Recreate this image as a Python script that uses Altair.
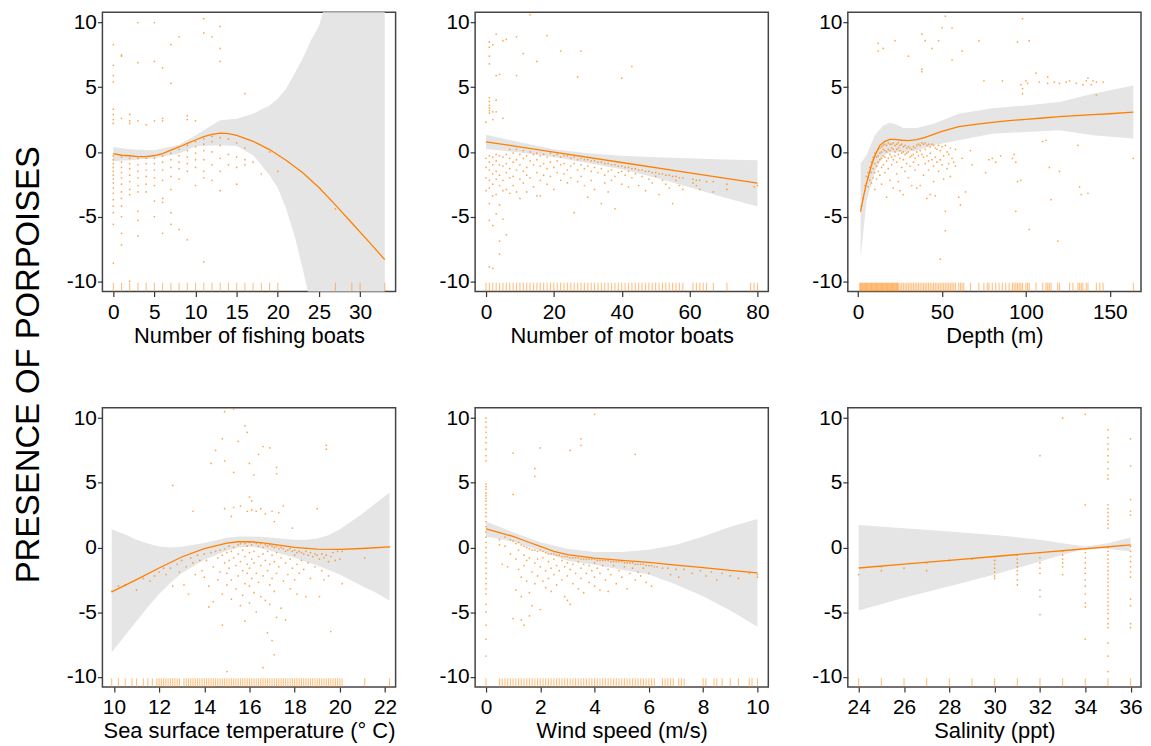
import altair as alt
import pandas as pd

FONT = "Liberation Sans"
ORANGE = "#FF7F00"
BAND = "#E5E5E5"

# ---------------- Panel 1: Number of fishing boats ----------------
fb_line_x = [0, 1, 2, 3, 4, 5, 6, 7, 8, 9, 10, 11, 12, 13, 14, 15, 17, 19, 21, 23, 25, 27, 29, 31, 33]
fb_line_y = [-0.13, -0.26, -0.3, -0.36, -0.36, -0.28, -0.13, 0.13, 0.38, 0.66, 0.92, 1.18, 1.36, 1.45, 1.41, 1.28, 0.82, 0.18, -0.64, -1.6, -2.75, -4.1, -5.5, -6.9, -8.33]
fb_band_x = [0, 2, 5, 8, 10, 13, 15, 17, 19, 20, 21, 22, 23, 24, 25, 25.5, 27, 30, 33]
fb_band_lo = [-0.72, -0.65, -0.5, -0.13, 0.44, 0.51, 0.46, -0.26, -1.8, -2.8, -4.36, -6.4, -8.97, -11.8, -14.5, -16, -20, -28, -36]
fb_band_hi = [0.38, 0.2, 0.13, 0.56, 1.28, 2.44, 2.56, 2.95, 3.59, 4.1, 4.87, 6.03, 7.18, 8.59, 9.74, 10.8, 14, 21, 28]
fb_points = {
    0: [-0.3, -0.6, -0.9, -1.2, -1.5, -1.8, -2.1, -2.4, -2.8, -3.2, -3.7, -4.2, -4.7, -5.6, -8.6, 2.2, 2.5, 2.9, 3.3, 5.4, 5.9, 6.7, 8.3],
    1: [-0.4, -0.8, -1.2, -1.6, -2.0, -2.5, -3.1, -3.6, -4.2, -5.0, -6.3, -7.2, 2.6, 7.4, 7.5],
    2: [-0.5, -0.9, -1.3, -1.8, -2.3, -2.9, -3.3, 2.2, 2.4, 2.9, -10.0],
    3: [-0.5, -1.0, -1.5, -2.0, -2.6, -3.1, -4.6, -5.3, -6.5, 2.4, 6.9, 10.0],
    4: [-0.5, -0.9, -1.4, -1.9, -2.5, -3.1, 2.1],
    5: [-0.5, -0.9, -1.4, -2.0, -2.6, -3.8, -5.0, 2.4, 7.0, 10.0],
    6: [-0.3, -0.8, -1.4, -2.2, -3.6, -3.9, -6.3, 2.4, 2.6, 6.5],
    7: [-0.1, -0.6, -1.2, -1.9, -2.9, -4.7, -5.6, 5.3, 8.3],
    8: [0.2, -0.3, -0.8, -1.3, -2.1, -6.0, 8.9],
    9: [0.5, 0.1, -0.4, -0.9, -1.5, -6.8, 2.5, 2.8],
    10: [0.8, 0.4, -0.1, -0.6, -1.2, -2.6, 2.4],
    11: [1.0, 0.6, 0.1, -0.6, -1.5, -2.0, -8.5, 9.2, 10.3],
    12: [1.2, 0.8, 0.0, -1.0, -2.2, 8.9],
    13: [1.1, 0.5, -0.5, -1.5, -3.0, 7.0, 8.0, 9.7],
    14: [1.0, -0.2, -1.0],
    15: [0.7, -0.4, -1.2, -2.5],
    16: [0.3, -0.6, -1.0, 4.5],
    17: [-0.8],
    18: [-1.7],
    19: [0.0],
    20: [-1.5],
    27: [-4.4],
}
fb_rug = [0, 1, 2, 3, 4, 5, 6, 7, 8, 9, 10, 11, 12, 13, 14, 15, 16, 17, 18, 19, 20, 27, 29, 30, 33]

# ---------------- Panel 2: Number of motor boats ----------------
mb_line_x = [0, 20, 40, 60, 80]
mb_line_y = [0.78, -0.02, -0.82, -1.62, -2.42]
mb_band_x = [0, 10, 20, 30, 40, 50, 60, 70, 80]
mb_band_lo = [0.23, -0.05, -0.4, -0.85, -1.34, -2.0, -2.74, -3.5, -4.23]
mb_band_hi = [1.33, 0.75, 0.2, -0.1, -0.3, -0.42, -0.5, -0.58, -0.64]
mb_points = {
    0: [2.3, -0.5, -1.2, -2.0, -3.0],
    1: [3.0, 3.2, 3.4, 3.6, 3.9, 4.2, 6.8, 7.4, 8.1, 8.5, -0.3, -0.8, -1.4, -2.2, -2.8, -4.0, -5.3, -8.9],
    2: [8.3, 3.1, 2.5, -0.4, -1.0, -1.7, -2.5, -3.4, -5.7, -9.0],
    3: [9.1, 5.9, 4.0, 3.1, -0.2, -0.7, -1.5, -2.1, -3.3, -4.8],
    4: [6.0, -0.3, -1.0, -1.8, -2.6, -4.1, -6.9, -7.9],
    5: [8.6, 2.6, -0.4, -1.1, -2.2, -3.0, -5.2],
    6: [8.7, -0.2, -0.9, -1.6, -2.9, -6.4],
    7: [0.2, -0.5, -1.3, -2.0, -3.2],
    8: [-0.1, -0.8, -1.9, -2.6],
    9: [8.9, 5.9, 0.2, -0.6, -1.4, -3.1],
    10: [-0.2, -1.0, -2.1, -3.6],
    11: [7.6, 0.1, -0.5, -1.5, -2.4],
    12: [-0.3, -1.2, -1.8, -3.1],
    13: [10.6, 0.0, -0.7, -2.0],
    14: [-0.2, -1.0, -2.7],
    15: [7.0, -0.1, -0.6, -1.6, -3.4],
    16: [-0.3, -1.1, -2.2, -3.4],
    17: [-0.2, -0.9, -1.8],
    18: [9.0, -0.4, -1.3, -2.5],
    19: [-0.1, -0.8, -1.9],
    20: [-0.3, -1.2, -2.9],
    21: [-0.2, -0.7, -1.6],
    22: [7.8, -0.4, -1.0, -2.2],
    23: [-0.3, -0.9, -1.7],
    24: [-0.3, -1.4, -2.4],
    25: [-0.5, -1.1, -2.0],
    26: [-0.4, -0.9, -4.7],
    27: [5.8, -0.6, -1.4, -2.3],
    28: [7.8, -0.5, -1.0, -1.9],
    29: [-0.6, -1.3, -2.6],
    30: [-0.6, -1.1, -3.5],
    31: [-0.7, -1.5, -2.2],
    32: [-0.7, -1.2, -2.9],
    33: [-0.8, -1.6],
    34: [-0.8, -1.3, -4.0],
    35: [-0.9, -1.8, -2.4],
    36: [-0.9, -1.5, -3.1],
    37: [-1.0, -1.4, -2.2],
    38: [-1.0, -1.9, -4.4],
    39: [-1.1, -1.6],
    40: [5.7, -1.1, -1.5, -2.5],
    41: [-1.2, -1.8],
    42: [-1.2, -1.5, -2.7],
    43: [6.6, -1.3, -2.0],
    44: [-1.3, -1.7],
    45: [-1.4, -2.6],
    46: [-1.4, -1.9],
    47: [-1.5, -3.0],
    48: [-1.5, -2.1],
    49: [-1.6, -2.4],
    50: [-1.6, -1.9],
    51: [-1.7, -3.3],
    52: [-1.7, -2.2],
    53: [-1.8, -2.5],
    54: [-1.8, -2.8],
    55: [-1.9, -4.0],
    56: [-1.9, -2.2],
    57: [-2.0, -2.6],
    58: [-2.0, -2.9],
    61: [-2.1, -2.4],
    62: [-2.2, -2.6],
    63: [-2.2, -2.9],
    65: [-2.3],
    67: [-2.3, -3.1],
    71: [-2.5, -2.9],
    79: [-2.7],
    80: [-2.6],
}
mb_rug = [0, 1, 2, 3, 4, 5, 6, 7, 8, 9, 10, 11, 12, 13, 14, 15, 16, 17, 18, 19, 20,
          21, 22, 23, 24, 25, 26, 27, 28, 29, 30, 31, 32, 33, 34, 35, 36, 37, 38, 39, 40,
          41, 42, 43, 44, 45, 46, 47, 48, 49, 50, 51, 52, 53, 54, 55, 56, 57, 58,
          61, 62, 63, 64, 65, 67, 71, 78, 79, 80]

# ---------------- Panel 3: Depth ----------------
dp_line_x = [1.5, 3, 5, 8, 10, 13, 16, 19, 22, 26, 30, 35, 40, 50, 60, 70, 80, 90, 100, 110, 120, 130, 140, 150, 164]
dp_line_y = [-4.62, -3.6, -2.44, -1.03, -0.3, 0.51, 0.82, 0.97, 0.97, 0.9, 0.87, 0.95, 1.13, 1.59, 1.95, 2.12, 2.28, 2.42, 2.52, 2.62, 2.72, 2.8, 2.88, 2.95, 3.07]
dp_band_x = [1.5, 5, 10, 15, 19, 22, 27, 35, 45, 60, 80, 100, 120, 140, 164]
dp_band_lo = [-8.2, -3.85, -1.54, -0.26, -0.05, -0.05, 0.0, 0.1, 0.51, 0.9, 1.41, 1.54, 1.67, 1.28, 1.03]
dp_band_hi = [-0.9, -0.26, 1.28, 2.05, 2.26, 2.15, 1.85, 1.85, 2.18, 2.95, 3.38, 3.59, 3.85, 4.49, 5.13]
dp_pts_x = [2, 3, 4, 4, 5, 5, 6, 6, 6, 7, 7, 7, 8, 8, 8, 8, 9, 9, 9, 9, 10, 10, 10, 10, 10, 11, 11, 11, 11,
            12, 12, 12, 12, 12, 12, 13, 13, 13, 13, 14, 14, 14, 14, 14, 15, 15, 15, 15, 15, 16, 16, 16, 16,
            17, 17, 17, 17, 18, 18, 18, 18, 19, 19, 19, 19, 20, 20, 20, 20, 21, 21, 21, 21, 22, 22, 22, 22,
            23, 23, 23, 23, 24, 24, 24, 24, 25, 25, 25, 25, 26, 26, 26, 27, 27, 27, 27, 28, 28, 28, 29, 29, 29,
            30, 30, 30, 30, 31, 31, 31, 32, 32, 32, 33, 33, 33, 34, 34, 34, 35, 35, 35, 36, 36, 36, 37, 37, 37,
            38, 38, 38, 38, 38, 39, 39, 39, 40, 40, 40, 40, 41, 41, 41, 42, 42, 42, 43, 43, 43, 44, 44, 44,
            45, 45, 45, 46, 46, 46, 47, 47, 48, 48, 48, 49, 49, 49, 50, 50, 50, 51, 51, 52, 52, 52, 52, 53, 53,
            54, 54, 55, 55, 56, 56, 56, 57, 58, 58, 60, 61, 62, 62, 64, 67, 68, 72, 75, 76, 78, 80, 82, 85, 86,
            92, 93, 94, 94, 95, 95, 97, 97, 98, 98, 98, 100, 101, 102, 102, 106, 108, 110, 112, 113, 113, 114,
            115, 117, 119, 120, 120, 124, 126, 130, 131, 132, 133, 134, 136, 137, 137, 139, 140, 142, 142, 146, 164]
dp_pts_y = [-4.2, -3.6, -3.0, -2.6, -2.4, -1.9, -2.0, -1.6, -2.7, -1.5, -1.2, -2.2, -1.0, -0.8, -1.6, -2.4,
            -0.6, -0.4, -1.3, -2.0, -0.3, -0.1, -0.9, -1.6, -2.9, 0.0, -0.4, -1.1, -2.1,
            0.2, -0.3, -0.8, -1.5, 7.8, 8.4, 0.3, -0.1, -0.6, -1.8, 0.4, 0.0, -0.5, -1.2, -2.5,
            0.5, 0.2, -0.3, -1.0, 8.0, 0.6, 0.1, -0.4, -1.6, 0.5, 0.0, -0.7, -3.5, 0.7, 0.2, -0.5, -1.3,
            0.6, 0.1, -0.2, -2.2, 0.6, 0.3, -0.4, -1.0, 0.7, 0.2, -0.6, -2.8, 0.5, 0.0, -0.3, 8.6,
            0.6, 0.2, -0.8, -1.7, 0.7, 0.3, -0.2, -2.3, 0.5, 0.1, -0.5, -3.0, 0.6, -0.1, -1.2,
            0.4, 0.0, -0.6, -3.3, 0.5, -0.2, -1.5, 0.3, -0.1, -0.9, 0.4, 0.0, -2.0, 7.4,
            0.3, -0.4, -1.1, 0.2, -0.3, -2.6, 0.4, -0.2, -0.8, 0.3, -0.5, -1.4, 0.5, 0.0, -2.8,
            0.6, -0.3, -1.0, 0.5, 0.1, -2.6, 0.7, -0.2, 6.4, 6.2, 9.1, 0.6, -0.4, -1.8, 0.7, 0.2, -0.9, 8.6,
            0.5, -0.3, -3.6, 0.6, -0.7, -1.4, 0.4, -0.1, -3.3, 0.6, -0.6, 8.0, 0.5, -1.1, -2.3,
            0.3, -0.4, -3.4, 0.2, -0.8, 0.5, -1.5, 8.6, 0.1, -0.6, -8.3, 0.4, -1.0, 9.6, -0.3, -2.1,
            0.5, -4.6, -6.1, 10.5, 0.0, -1.3, -0.2, -0.9, 0.3, -1.9, -0.5, 7.1, 9.6, -0.8, -1.1, 0.2,
            -3.5, -4.1, -0.5, 7.8, -3.1, 0.1, -1.0, 8.6, 5.5, -1.6, -0.6, -0.5, -0.8, -0.3, 5.5,
            -0.5, -0.2, -0.8, -4.6, 8.5, -2.3, -2.2, 5.2, 10.3, 4.9, 4.5, 5.5, 5.3, 8.6, -6.0, 6.1, 5.4,
            0.8, 0.9, 5.3, 5.8, -1.2, -3.7, 5.4, -6.9, -1.5, 5.3, 5.4, 5.5, 5.3, 0.5, -2.7, -3.3, 5.2,
            5.5, 5.7, -3.2, 5.2, 5.5, 4.4, 5.4, 5.4, -0.5]
dp_rug = [1, 1.5, 2, 2.5, 3, 3.5, 4, 4.5, 5, 5.5, 6, 6.5, 7, 7.5, 8, 8.5, 9, 9.5, 10, 10.5,
          11, 11.5, 12, 12.5, 13, 13.5, 14, 14.5, 15, 15.5, 16, 16.5, 17, 17.5, 18, 18.5, 19,
          19.5, 20, 20.5, 21, 21.5, 22, 22.5, 23, 23.5, 24, 25, 26, 27, 28, 29, 30, 31, 32, 33, 34, 35, 36,
          37, 38, 39, 40, 41, 42, 43, 44, 45, 46, 47, 48, 49, 50, 51, 52, 53, 54, 55, 56, 57, 58, 60, 61, 62, 63,
          67, 72, 75, 77, 78, 80, 82, 84, 86, 88, 90, 92, 93, 94, 95, 96, 97, 98, 100, 101, 102,
          106, 110, 112, 113, 114, 115, 119, 120, 126, 128, 131, 132, 133, 134, 136, 137, 142,
          144, 146, 164]

# ---------------- Panel 4: Sea surface temperature ----------------
st_line_x = [9.9, 11, 12, 13, 14, 15, 15.5, 16, 16.5, 17, 18, 19, 20, 21, 22.2]
st_line_y = [-3.44, -2.49, -1.59, -0.74, -0.1, 0.33, 0.44, 0.44, 0.38, 0.26, 0.0, -0.13, -0.15, -0.08, 0.05]
st_band_x = [9.9, 10.5, 11, 11.5, 12, 12.5, 13, 14, 15, 15.5, 16, 16.5, 17, 18, 18.5, 19, 19.5, 20, 20.5, 21, 21.5, 22.2]
st_band_lo = [-8.13, -6.8, -5.7, -4.6, -3.6, -2.75, -2.0, -0.95, -0.25, 0.0, 0.05, -0.05, -0.3, -0.8, -1.1, -1.4, -1.75, -2.1, -2.55, -3.0, -3.4, -4.1]
st_band_hi = [1.41, 1.0, 0.6, 0.3, 0.08, 0.0, 0.05, 0.35, 0.75, 0.85, 0.85, 0.82, 0.75, 0.6, 0.6, 0.7, 0.95, 1.4, 2.0, 2.6, 3.3, 4.23]
st_pts_x = [9.9, 10.2, 10.5, 11.0, 11.3, 11.6, 11.8, 12.0, 12.2, 12.3, 12.5, 12.6, 12.6, 12.8, 12.9, 13.0, 13.1,
            13.2, 13.3, 13.4, 13.5, 13.5, 13.6, 13.7, 13.8, 13.9, 14.0, 14.0, 14.1, 14.2, 14.2, 14.3, 14.3,
            14.4, 14.4, 14.5, 14.5, 14.6, 14.6, 14.7, 14.7, 14.8, 14.8, 14.8, 14.8, 14.9, 14.9, 14.9, 14.9,
            14.9, 15.0, 15.0, 15.0, 15.0, 15.1, 15.1, 15.1, 15.2, 15.2, 15.2, 15.2, 15.3, 15.3, 15.3, 15.3,
            15.3, 15.4, 15.4, 15.5, 15.5, 15.5, 15.5, 15.6, 15.6, 15.6, 15.6, 15.7, 15.7, 15.7, 15.8, 15.8,
            15.8, 15.8, 15.8, 15.9, 15.9, 15.9, 15.9, 15.9, 16.0, 16.0, 16.0, 16.0, 16.0, 16.0, 16.0, 16.1,
            16.1, 16.1, 16.1, 16.1, 16.2, 16.2, 16.2, 16.2, 16.2, 16.3, 16.3, 16.3, 16.3, 16.4, 16.4, 16.4,
            16.4, 16.5, 16.5, 16.5, 16.5, 16.6, 16.6, 16.6, 16.6, 16.6, 16.7, 16.7, 16.7, 16.7, 16.8, 16.8,
            16.8, 16.8, 16.9, 16.9, 16.9, 16.9, 16.9, 17.0, 17.0, 17.0, 17.0, 17.0, 17.1, 17.1, 17.1, 17.1,
            17.1, 17.2, 17.2, 17.2, 17.2, 17.2, 17.2, 17.3, 17.3, 17.3, 17.4, 17.4, 17.4, 17.5, 17.5, 17.5,
            17.6, 17.6, 17.6, 17.7, 17.7, 17.8, 17.8, 17.8, 17.9, 17.9, 17.9, 18.0, 18.0, 18.0, 18.1, 18.1,
            18.1, 18.2, 18.2, 18.3, 18.3, 18.4, 18.4, 18.5, 18.5, 18.6, 18.6, 18.7, 18.7, 18.8, 18.9, 18.9,
            19.0, 19.0, 19.1, 19.1, 19.2, 19.2, 19.3, 19.3, 19.4, 19.4, 19.4, 19.5, 19.5, 19.6, 19.6, 19.7,
            19.8, 19.9, 20.0, 20.1, 20.1, 21.1, 22.2]
st_pts_y = [-3.4, -3.0, -2.9, -3.3, -2.4, -2.6, -2.2, -1.9, -1.6, -2.1, -1.6, -3.0, 4.8, -1.3, -1.9, -1.0, -2.9,
            -1.5, -3.6, -0.8, -1.2, 2.8, -2.1, -0.6, -1.0, -1.8, -0.5, -2.3, -1.0, -3.0, -4.6, -0.4, 6.5,
            -1.5, -4.2, -0.3, 7.5, -0.8, -2.5, -0.2, -1.9, -0.6, -3.6, -6.0, 8.4, -0.1, -1.2, 3.0, 6.7,
            10.5, -0.4, -2.0, -2.9, -9.6, 0.1, -1.0, -1.6, -0.3, -2.5, -4.0, 2.4, 0.0, -0.8, 3.1, 10.7,
            5.8, -1.4, -3.2, 0.2, -0.5, -2.2, 8.2, 0.3, -1.1, -4.5, 3.2, -0.2, -1.8, -3.7, 0.3, -0.7,
            -2.8, -5.7, 9.4, 0.1, -1.3, -2.0, 2.8, 8.9, 0.4, -0.4, -1.6, -3.0, -4.3, 3.9, 6.5, 0.2,
            -0.9, -2.4, 2.9, 3.6, 0.4, -0.3, -1.2, -3.5, 5.6, 0.3, -2.0, -5.0, 2.8, 0.1, -0.7, -2.7,
            7.2, 0.3, -1.4, -3.8, 3.0, 0.0, -0.5, -2.2, -9.3, 7.8, 0.2, -1.0, -4.1, 2.6, 0.1, -0.3,
            -1.8, -6.6, 0.2, -1.3, -2.9, -4.4, 7.7, 0.1, -0.6, -2.4, -7.2, 2.8, 0.0, -1.1, -3.4, -8.3,
            2.0, 0.1, -0.4, -2.0, -5.4, 6.2, 5.7, -0.1, -1.5, 2.7, 0.0, -0.8, -4.7, -0.1, -2.6, 3.2,
            -0.3, -1.2, -5.6, -0.2, -2.1, -0.1, -0.9, -3.2, -0.3, -1.6, 1.5, -0.2, -0.6, -2.5, -0.4, -1.3,
            -3.6, -0.3, -2.0, -0.4, -1.0, -0.5, -1.7, -0.3, -3.8, -0.6, -1.2, -0.4, -2.4, -0.7, -0.5, -1.5,
            -0.6, 3.0, -0.9, -3.8, -0.5, -1.8, -0.8, -2.5, -0.6, 7.9, 7.6, -1.1, -2.2, -0.7, -6.5, -0.4,
            -1.0, -0.3, -0.9, -0.3, -2.8, -0.8, 0.05]
st_rug = [9.9, 10.2, 10.5, 10.8, 11.0, 11.3, 11.5, 11.7, 11.9, 12.0, 12.1, 12.2, 12.3, 12.4, 12.5, 12.6,
          12.7, 12.8, 12.9, 13.1, 13.2, 13.3, 13.4, 13.5, 13.6, 13.7, 13.8, 13.9, 14.0, 14.1, 14.2, 14.3,
          14.4, 14.5, 14.6, 14.7, 14.8, 14.9, 15.0, 15.1, 15.2, 15.3, 15.4, 15.5, 15.6, 15.7, 15.8, 15.9,
          16.0, 16.1, 16.2, 16.3, 16.4, 16.5, 16.6, 16.7, 16.8, 16.9, 17.0, 17.1, 17.2, 17.3, 17.4, 17.5,
          17.6, 17.7, 17.8, 17.9, 18.0, 18.1, 18.2, 18.3, 18.4, 18.5, 18.6, 18.7, 18.8, 18.9, 19.0, 19.1,
          19.2, 19.3, 19.4, 19.5, 19.6, 19.7, 19.8, 19.9, 20.0, 20.1, 21.1, 22.2]

# ---------------- Panel 5: Wind speed ----------------
ws_line_x = [0, 0.5, 1, 1.5, 2, 2.5, 3, 4, 5, 6, 7, 8, 9, 10]
ws_line_y = [1.44, 1.15, 0.85, 0.46, 0.08, -0.3, -0.56, -0.82, -1.0, -1.15, -1.36, -1.56, -1.77, -1.97]
ws_band_x = [0, 1, 2, 3, 4, 5, 6, 7, 8, 9, 10]
ws_band_lo = [0.85, 0.46, -0.26, -1.03, -1.33, -1.72, -2.1, -2.87, -3.77, -4.87, -6.13]
ws_band_hi = [2.0, 1.18, 0.41, -0.1, -0.36, -0.36, -0.18, 0.2, 0.85, 1.6, 2.2]
ws_pts_x = [0] * 40 + [
    0.5, 0.5, 0.6, 0.7, 0.7, 0.8, 0.9, 0.9, 1.0, 1.0, 1.0, 1.0, 1.1, 1.1, 1.1, 1.2, 1.2, 1.2, 1.3, 1.3,
    1.3, 1.3, 1.4, 1.4, 1.4, 1.4, 1.5, 1.5, 1.5, 1.6, 1.6, 1.6, 1.6, 1.7, 1.7, 1.7, 1.8, 1.8, 1.8, 1.8,
    1.8, 1.9, 1.9, 1.9, 2.0, 2.0, 2.0, 2.0, 2.1, 2.1, 2.1, 2.2, 2.2, 2.2, 2.3, 2.3, 2.3, 2.4, 2.4, 2.4,
    2.5, 2.5, 2.5, 2.6, 2.6, 2.6, 2.7, 2.7, 2.8, 2.8, 2.8, 2.9, 2.9, 2.9, 3.0, 3.0, 3.0, 3.0, 3.1, 3.1,
    3.1, 3.1, 3.2, 3.2, 3.2, 3.3, 3.3, 3.4, 3.4, 3.4, 3.5, 3.5, 3.5, 3.5, 3.5, 3.6, 3.6, 3.6, 3.7, 3.7,
    3.8, 3.8, 3.8, 3.9, 3.9, 4.0, 4.0, 4.0, 4.0, 4.0, 4.1, 4.1, 4.2, 4.2, 4.2, 4.3, 4.3, 4.4, 4.4, 4.5,
    4.5, 4.5, 4.6, 4.6, 4.7, 4.7, 4.8, 4.8, 4.9, 4.9, 5.0, 5.0, 5.1, 5.1, 5.2, 5.2, 5.3, 5.3, 5.4, 5.4,
    5.5, 5.5, 5.5, 5.6, 5.6, 5.7, 5.7, 5.8, 5.8, 5.9, 5.9, 6.0, 6.0, 6.1, 6.1, 6.2, 6.3, 6.5, 6.7, 6.8,
    7.0, 7.1, 7.3, 7.6, 7.9, 8.1, 8.3, 8.5, 8.7, 9.0, 9.3, 9.7, 10.0, 10.0]
ws_pts_y = [10.0, 9.7, 9.3, 8.9, 8.5, 8.1, 7.6, 7.1, 6.7, 4.9, 4.7, 4.5, 4.2, 4.0, 3.8, 3.6, 3.3, 3.0, 2.7,
            2.4, 2.0, 1.6, 1.2, 0.8, 0.4, 0.0, -0.4, -0.8, -1.2, -1.6, -2.0, -2.4, -2.8, -3.2, -3.6, -4.4,
            -5.0, -6.0, -7.1, -8.4,
            0.6, 0.2, -1.3, 0.8, 0.1, -1.5, 0.6, -0.5, 4.1, 7.3, 0.5, -5.5, 0.3, -0.9, -3.3, 0.4, -0.2, -1.7,
            0.2, -2.3, -3.8, -5.6, 0.1, -0.6, -1.4, -6.0, 0.0, -1.0, -2.6, -0.1, -0.8, -3.5, -5.3, -0.2,
            -1.9, -4.5, 5.5, 6.1, -0.2, -1.2, -2.8, -0.3, -0.9, -2.2, 7.7, -0.2, -1.5, -4.8, -0.3, -0.8,
            -2.6, -0.4, -1.8, -3.1, -0.5, -1.1, -2.4, -0.5, -1.6, -3.4, -0.5, -0.9, -2.1, -0.6, -1.4, -2.9,
            -0.6, -1.8, -0.7, -1.0, -2.5, -0.7, -1.5, -3.8, -0.7, -1.2, -2.2, -4.1, 7.5, -0.8, -1.7, -4.4,
            -0.8, -1.3, -2.8, -0.8, -2.0, -0.8, -1.1, -3.2, 8.4, 7.9, -0.9, -1.6, -2.4, -0.9, -1.3, -3.5,
            -0.9, -2.0, -0.9, -1.4, -2.7, -0.9, -1.8, 10.3, -0.9, -1.2, -2.3, -3.0, -1.0, -1.6, -1.0, -2.0,
            -3.3, -1.0, -1.4, -1.0, -2.5, -1.0, -1.7, -3.4, -1.1, -2.1, -1.1, -1.4, -1.1, -2.8, -1.1, -1.8,
            -1.1, -2.3, -1.2, -1.5, -1.2, -3.2, -1.2, -2.0, -1.2, -1.6, 7.2, -1.3, -2.5, -1.3, -1.9, -1.3,
            -2.2, -1.3, -1.6, -1.4, -2.7, -1.4, -2.0, -1.4, -3.0, -1.5, -1.5, -1.6, -1.6, -2.1, -1.7, -2.3,
            -1.7, -2.0, -1.8, -2.2, -1.9, -2.5, -2.0, -2.2, -2.4, -2.0, -2.1, -2.3]
ws_rug = [0, 0.5, 0.6, 0.7, 0.8, 0.9, 1.0, 1.1, 1.2, 1.3, 1.4, 1.5, 1.6, 1.7, 1.8, 1.9, 2.0, 2.1, 2.2,
          2.3, 2.4, 2.5, 2.6, 2.7, 2.8, 2.9, 3.0, 3.1, 3.2, 3.3, 3.4, 3.5, 3.6, 3.7, 3.8, 3.9, 4.0, 4.1,
          4.2, 4.3, 4.4, 4.5, 4.6, 4.7, 4.8, 4.9, 5.0, 5.1, 5.2, 5.3, 5.4, 5.5, 5.6, 5.7, 5.8, 5.9, 6.0,
          6.1, 6.2, 6.5, 6.6, 6.7, 6.8, 6.9, 7.1, 7.2, 7.3, 8.0, 8.1, 8.4, 8.5, 8.7, 9.0, 9.3, 9.7, 9.8, 10.0]

# ---------------- Panel 6: Salinity ----------------
sa_line_x = [24, 26, 28, 30, 32, 34, 36]
sa_line_y = [-1.59, -1.29, -1.0, -0.7, -0.4, -0.1, 0.2]
sa_band_x = [24, 26, 28, 30, 32, 33, 34, 35, 36]
sa_band_lo = [-4.87, -3.9, -3.0, -2.1, -1.08, -0.56, -0.1, -0.1, -0.31]
sa_band_hi = [1.74, 1.49, 1.23, 0.97, 0.6, 0.33, 0.08, 0.33, 0.77]
sa_points = {
    24: [-2.1],
    25: [-1.5, -1.8],
    26: [-1.6],
    27: [-1.2, -1.8],
    28: [-1.0],
    29: [-0.9],
    30: [-0.7, -1.0, -1.3, -1.6, -1.9, -2.2, -2.4],
    31: [-0.6, -0.9, -1.2, -1.5, -1.8, -2.1, -2.5, -2.9],
    32: [-0.4, -0.8, -1.2, -1.6, -2.0, -3.3, -3.8, -5.2, 7.1],
    33: [-0.3, -0.6, -0.9, -1.2, -1.5, -2.1, 10.0],
    34: [-0.1, -0.4, -0.8, -1.2, -1.6, -2.0, -2.5, -3.0, -3.6, -4.3, -4.6, -7.1, 3.3, 10.3],
    35: [0.0, -0.3, -0.6, -0.9, -1.2, -1.5, -1.8, -2.1, -2.4, -2.7, -3.0, -3.3, -3.6, -3.9, -4.2, -4.5,
         -4.8, -5.1, -5.5, -5.9, -6.2, -7.4, -8.4, -9.6, 1.5, 1.8, 2.1, 2.4, 2.7, 3.0, 3.3, 5.3, 5.6,
         6.1, 6.6, 7.1, 7.6, 8.0, 8.5, 9.1],
    36: [0.1, -0.3, -0.7, -1.1, -1.5, -1.9, -2.3, -4.0, -4.5, -5.9, -6.2, 2.5, 2.8, 3.7, 6.3, 8.4],
}
sa_rug = [24, 25, 26, 27, 28, 29, 30, 31, 32, 33, 34, 35, 36]

Y_DOMAIN = [-10.8, 10.8]
PW, PH = 295, 281


def cols_to_xy(cols):
    xs, ys = [], []
    for k, vals in cols.items():
        for v in vals:
            xs.append(k)
            ys.append(v)
    return xs, ys


def panel(px, py, lx, ly, bx, blo, bhi, rug, xdom, xticks, xtitle):
    pts = pd.DataFrame({"x": px, "y": py})
    ln = pd.DataFrame({"x": lx, "y": ly})
    bd = pd.DataFrame({"x": bx, "lo": blo, "hi": bhi})
    rg = pd.DataFrame({"x": rug})
    xs = alt.Scale(domain=xdom, nice=False, zero=False)
    ys = alt.Scale(domain=Y_DOMAIN, nice=False, zero=False)
    xax = alt.Axis(values=xticks, title=xtitle, labelPadding=5, titlePadding=3,
                   labelExpr="toString(datum.value)")
    yax = alt.Axis(values=[-10, -5, 0, 5, 10], title=None, labelPadding=1,
                   labelExpr="toString(datum.value)")
    band = alt.Chart(bd).mark_area(color=BAND, opacity=1, clip=True).encode(
        x=alt.X("x:Q", scale=xs, axis=xax),
        y=alt.Y("lo:Q", scale=ys, axis=yax),
        y2="hi:Q",
    )
    points = alt.Chart(pts).mark_circle(size=3, color=ORANGE, opacity=0.7, clip=True).encode(
        x="x:Q", y="y:Q"
    )
    line = alt.Chart(ln).mark_line(color=ORANGE, strokeWidth=1.3, clip=True).encode(
        x="x:Q", y="y:Q"
    )
    rugs = alt.Chart(rg).mark_rule(color="#FF8C1A", opacity=0.55, strokeWidth=1.1).encode(
        x="x:Q", y=alt.datum(-10.8), y2=alt.datum(-10.12)
    )
    return alt.layer(band, points, line, rugs).properties(width=PW, height=PH)


fx, fy = cols_to_xy(fb_points)
mx, my = cols_to_xy(mb_points)
sx, sy = cols_to_xy(sa_points)

p1 = panel(fx, fy, fb_line_x, fb_line_y, fb_band_x, fb_band_lo, fb_band_hi, fb_rug,
           [-1.32, 34.32], [0, 5, 10, 15, 20, 25, 30], "Number of fishing boats")
p2 = panel(mx, my, mb_line_x, mb_line_y, mb_band_x, mb_band_lo, mb_band_hi, mb_rug,
           [-3.2, 83.2], [0, 20, 40, 60, 80], "Number of motor boats")
p3 = panel(dp_pts_x, dp_pts_y, dp_line_x, dp_line_y, dp_band_x, dp_band_lo, dp_band_hi, dp_rug,
           [-6.1, 168.6], [0, 50, 100, 150], "Depth (m)")
p4 = panel(st_pts_x, st_pts_y, st_line_x, st_line_y, st_band_x, st_band_lo, st_band_hi, st_rug,
           [9.49, 22.47], [10, 12, 14, 16, 18, 20, 22], "Sea surface temperature (° C)")
p5 = panel(ws_pts_x, ws_pts_y, ws_line_x, ws_line_y, ws_band_x, ws_band_lo, ws_band_hi, ws_rug,
           [-0.4, 10.4], [0, 2, 4, 6, 8, 10], "Wind speed (m/s)")
p6 = panel(sx, sy, sa_line_x, sa_line_y, sa_band_x, sa_band_lo, sa_band_hi, sa_rug,
           [23.52, 36.46], [24, 26, 28, 30, 32, 34, 36], "Salinity (ppt)")

chart = alt.concat(
    p1, p2, p3, p4, p5, p6, columns=3,
    spacing=alt.RowColnumber(column=80, row=117), bounds="flush",
    title=alt.TitleParams(
        text="PRESENCE OF PORPOISES", orient="left", anchor="middle",
        fontSize=33, font=FONT, fontWeight="normal", color="black", offset=20, dx=12,
    ),
).properties(
    padding={"left": 4, "top": 0, "right": 0, "bottom": 0},
    background="white",
).configure_axis(
    labelFont=FONT, titleFont=FONT, labelFontSize=21, titleFontSize=22,
    labelColor="black", titleColor="black", titleFontWeight="normal",
    tickColor="#333333", tickSize=5, tickWidth=1.2, grid=False, domain=False,
).configure_view(
    stroke="#444444", strokeWidth=1.5,
)

chart.save("out.html", embed_options={"renderer": "svg", "actions": False})
